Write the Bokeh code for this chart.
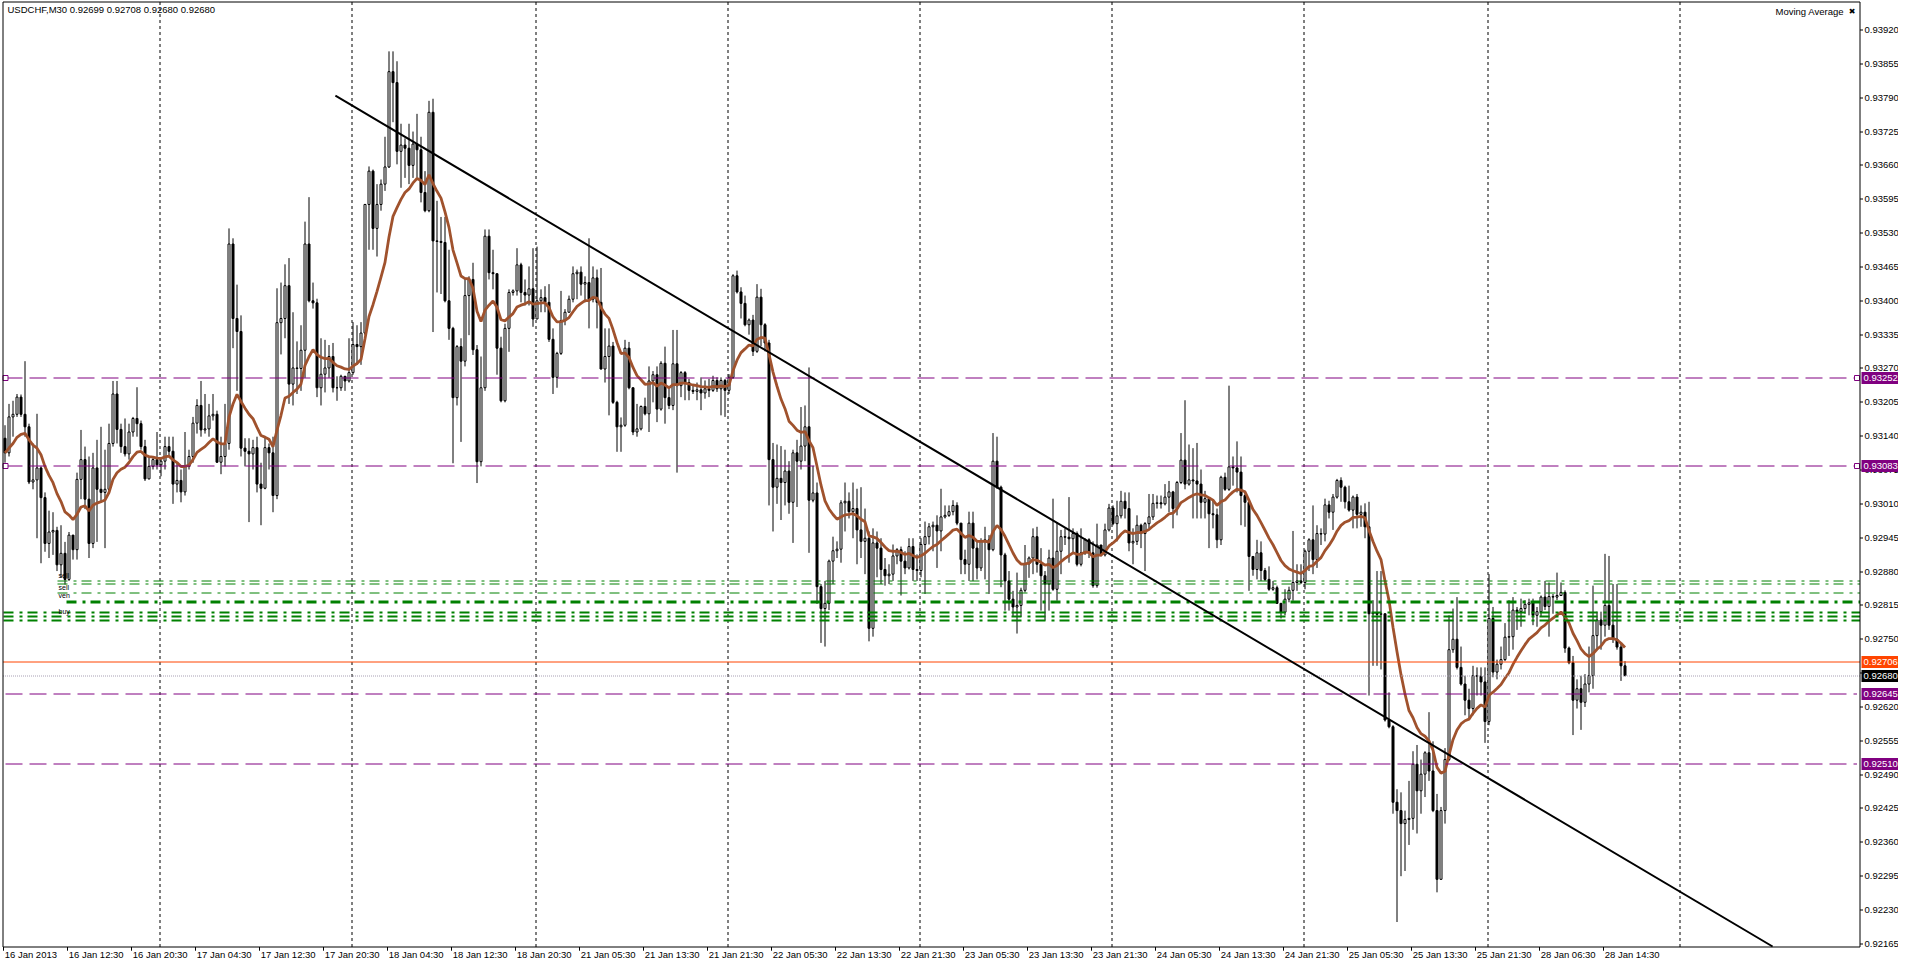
import math
import numpy as np
import pandas as pd
from bokeh.plotting import figure
from bokeh.models import Range1d, ColumnDataSource
from bokeh.core.properties import value
from bokeh.embed import file_html
from bokeh.resources import INLINE

# ---------------- data ----------------
chart_title = "USDCHF,M30  0.92699 0.92708 0.92680 0.92680"
indicator_name = "Moving Average"
first_open_pts = 93136  # prices in points (price = pts / 1e5)

close_pts = [
    93108, 93177, 93182, 93215, 93182, 93158, 93052, 93056, 93079, 93022,
    92934, 92956, 92959, 92893, 92915, 92865, 92950, 92922, 93057, 93095,
    93019, 92934, 93079, 93038, 93032, 93038, 93126, 93221, 93153, 93120,
    93106, 93148, 93174, 93164, 93120, 93058, 93082, 93095, 93085, 93092,
    93120, 93111, 93048, 93055, 93033, 93082, 93101, 93165, 93199, 93152,
    93154, 93179, 93182, 93090, 93101, 93126, 93509, 93366, 93341, 93117,
    93111, 93106, 93118, 93048, 93040, 93118, 93108, 93026, 93358, 93366,
    93429, 93240, 93271, 93270, 93305, 93509, 93400, 93396, 93233, 93259,
    93271, 93293, 93233, 93233, 93255, 93246, 93262, 93316, 93312, 93338,
    93585, 93649, 93539, 93585, 93624, 93657, 93840, 93819, 93687, 93699,
    93693, 93660, 93701, 93690, 93608, 93573, 93762, 93515, 93514, 93512,
    93400, 93347, 93214, 93312, 93284, 93410, 93441, 93306, 93091, 93233,
    93524, 93454, 93452, 93309, 93208, 93347, 93416, 93419, 93469, 93416,
    93411, 93423, 93365, 93400, 93406, 93397, 93326, 93253, 93299, 93362,
    93378, 93403, 93452, 93455, 93432, 93435, 93403, 93444, 93397, 93269,
    93293, 93313, 93205, 93158, 93161, 93309, 93233, 93148, 93154, 93197,
    93183, 93246, 93258, 93192, 93280, 93214, 93199, 93279, 93237, 93262,
    93243, 93228, 93226, 93229, 93223, 93231, 93228, 93247, 93231, 93247,
    93228, 93253, 93448, 93417, 93395, 93354, 93363, 93303, 93407, 93354,
    93319, 93095, 93042, 93059, 93051, 93073, 93013, 93108, 93092, 93121,
    93158, 93017, 93031, 92851, 92809, 92819, 92900, 92920, 92923, 93012,
    93015, 92995, 93001, 92960, 92938, 92944, 92771, 92935, 92925, 92884,
    92872, 92875, 92910, 92922, 92900, 92887, 92928, 92884, 92882, 92932,
    92947, 92966, 92969, 92958, 92985, 92988, 92995, 93007, 92973, 92903,
    92894, 92973, 92925, 92887, 92938, 92941, 92922, 93092, 93042, 92912,
    92862, 92827, 92812, 92815, 92844, 92895, 92906, 92947, 92894, 92872,
    92856, 92906, 92846, 92919, 92947, 92946, 92943, 92953, 92894, 92916,
    92941, 92916, 92853, 92931, 92912, 92960, 93002, 92972, 92987, 93015,
    93001, 92935, 92938, 92969, 92953, 92972, 92985, 93011, 93012, 93010,
    93023, 93033, 93001, 93051, 93094, 93048, 93056, 93054, 93048, 93013,
    93020, 92991, 92989, 92941, 93061, 93038, 93081, 93079, 93071, 93026,
    93013, 92909, 92884, 92916, 92882, 92865, 92846, 92849, 92819, 92802,
    92827, 92844, 92859, 92862, 92859, 92919, 92941, 92903, 92953, 92952,
    93008, 92994, 93023, 93055, 93042, 93014, 92998, 93023, 92990, 92994,
    92966, 92799, 92801, 92798, 92799, 92595, 92582, 92437, 92421, 92396,
    92404, 92406, 92510, 92459, 92491, 92532, 92497, 92421, 92289, 92421,
    92519, 92730, 92750, 92696, 92664, 92633, 92617, 92680, 92679, 92668,
    92592, 92790, 92687, 92702, 92711, 92754, 92755, 92806, 92803, 92809,
    92817, 92820, 92796, 92803, 92831, 92813, 92832, 92831, 92834, 92840,
    92733, 92705, 92633, 92655, 92629, 92664, 92680, 92757, 92787, 92777,
    92815, 92777, 92750, 92735, 92699, 92680,
]

high_pts = [
    93161, 93202, 93208, 93221, 93220, 93284, 93164, 93126, 93183, 93082,
    93032, 92997, 92994, 92966, 92969, 92937, 92956, 92950, 93070, 93152,
    93120, 93101, 93108, 93133, 93158, 93114, 93164, 93246, 93246, 93164,
    93174, 93164, 93177, 93234, 93170, 93133, 93101, 93098, 93148, 93098,
    93139, 93139, 93139, 93089, 93076, 93148, 93114, 93177, 93211, 93246,
    93221, 93202, 93221, 93189, 93139, 93202, 93539, 93520, 93431, 93372,
    93136, 93136, 93133, 93139, 93089, 93139, 93126, 93139, 93424, 93435,
    93470, 93482, 93378, 93322, 93353, 93552, 93599, 93435, 93404, 93328,
    93325, 93315, 93319, 93255, 93258, 93249, 93328, 93359, 93353, 93359,
    93586, 93658, 93652, 93624, 93633, 93715, 93879, 93879, 93860, 93740,
    93712, 93740, 93725, 93759, 93715, 93649, 93784, 93788, 93592, 93561,
    93561, 93498, 93350, 93315, 93328, 93444, 93447, 93473, 93315, 93293,
    93537, 93537, 93498, 93451, 93331, 93356, 93422, 93422, 93501, 93473,
    93441, 93466, 93501, 93504, 93422, 93428, 93432, 93347, 93302, 93419,
    93384, 93410, 93466, 93460, 93466, 93447, 93520, 93466, 93460, 93463,
    93347, 93347, 93321, 93208, 93176, 93325, 93321, 93233, 93202, 93199,
    93214, 93274, 93265, 93274, 93284, 93312, 93233, 93344, 93344, 93265,
    93265, 93250, 93237, 93243, 93253, 93247, 93250, 93256, 93253, 93253,
    93250, 93259, 93451, 93458, 93426, 93410, 93366, 93373, 93432, 93423,
    93357, 93325, 93127, 93124, 93121, 93114, 93092, 93114, 93133, 93196,
    93199, 93272, 93083, 93051, 92856, 92862, 92903, 92947, 92938, 93017,
    93051, 93032, 93051, 93039, 93042, 93001, 92957, 92963, 92957, 92944,
    92906, 92894, 92932, 92925, 92928, 92919, 92944, 92944, 92913, 92944,
    92976, 92973, 92976, 92988, 93039, 93007, 93007, 93017, 93013, 92973,
    92922, 92995, 92995, 92938, 92944, 92966, 92950, 93146, 93139, 93045,
    92916, 92881, 92843, 92878, 92849, 92931, 92909, 92963, 92966, 92925,
    92881, 92922, 93020, 92975, 92960, 92963, 93023, 92963, 92957, 92963,
    92944, 92944, 92938, 92972, 92931, 92972, 93010, 93007, 93016, 93035,
    93032, 93032, 92963, 92988, 92972, 92975, 93029, 93029, 93026, 93026,
    93048, 93054, 93035, 93054, 93146, 93209, 93124, 93117, 93127, 93076,
    93035, 93023, 93016, 93001, 93064, 93070, 93237, 93101, 93130, 93101,
    93035, 93016, 92909, 92941, 92938, 92887, 92890, 92862, 92853, 92818,
    92846, 92851, 92958, 92894, 92894, 92922, 92944, 93007, 92969, 92963,
    93020, 93016, 93029, 93058, 93061, 93045, 93045, 93026, 93029, 93007,
    93011, 93014, 92825, 92881, 92881, 92796, 92648, 92585, 92462, 92456,
    92421, 92478, 92535, 92547, 92519, 92535, 92610, 92554, 92453, 92428,
    92541, 92796, 92809, 92831, 92736, 92680, 92655, 92699, 92696, 92696,
    92696, 92875, 92812, 92711, 92736, 92781, 92825, 92831, 92812, 92828,
    92825, 92828, 92828, 92812, 92834, 92862, 92859, 92837, 92878, 92859,
    92844, 92736, 92718, 92673, 92680, 92683, 92736, 92853, 92803, 92803,
    92914, 92910, 92856, 92856, 92743, 92708,
]

low_pts = [
    93089, 93101, 93139, 93177, 93177, 93139, 93048, 93038, 92944, 92896,
    92918, 92906, 92912, 92881, 92868, 92855, 92862, 92903, 92903, 93019,
    93000, 92906, 92925, 92937, 93013, 92925, 93032, 93120, 93126, 93108,
    93101, 93095, 93139, 93139, 93114, 93054, 93057, 93076, 93076, 93063,
    93076, 93101, 93010, 93032, 93013, 93026, 93076, 93089, 93145, 93139,
    93145, 93139, 93170, 93089, 93067, 93082, 93114, 93309, 93227, 93101,
    93082, 92975, 93076, 93032, 92969, 93038, 93076, 92994, 93019, 93297,
    93328, 93202, 93199, 93221, 93227, 93252, 93397, 93385, 93215, 93199,
    93224, 93252, 93224, 93208, 93227, 93227, 93243, 93258, 93277, 93277,
    93334, 93498, 93498, 93485, 93573, 93611, 93655, 93743, 93662, 93617,
    93636, 93624, 93636, 93636, 93589, 93570, 93570, 93340, 93416, 93413,
    93397, 93325, 93088, 93199, 93129, 93274, 93334, 93296, 93050, 93082,
    93227, 93441, 93422, 93258, 93205, 93205, 93302, 93410, 93410, 93397,
    93391, 93391, 93350, 93397, 93378, 93378, 93321, 93221, 93233, 93296,
    93353, 93378, 93397, 93403, 93410, 93397, 93347, 93397, 93347, 93268,
    93243, 93180, 93202, 93110, 93110, 93158, 93230, 93142, 93139, 93151,
    93180, 93148, 93205, 93167, 93189, 93164, 93192, 93190, 93070, 93215,
    93209, 93209, 93221, 93209, 93190, 93212, 93215, 93225, 93225, 93180,
    93177, 93221, 93250, 93414, 93366, 93351, 93335, 93294, 93300, 93313,
    93303, 93007, 92957, 93010, 92979, 93007, 92991, 92935, 93004, 93076,
    93092, 92916, 93013, 92818, 92743, 92736, 92806, 92856, 92906, 92897,
    92957, 92982, 92944, 92894, 92906, 92875, 92746, 92755, 92869, 92856,
    92853, 92856, 92862, 92894, 92834, 92875, 92884, 92862, 92862, 92869,
    92837, 92932, 92919, 92887, 92919, 92982, 92985, 92988, 92969, 92875,
    92875, 92862, 92862, 92865, 92881, 92865, 92837, 92919, 93039, 92850,
    92805, 92805, 92793, 92761, 92793, 92840, 92868, 92875, 92878, 92805,
    92786, 92805, 92843, 92824, 92875, 92931, 92897, 92916, 92890, 92890,
    92912, 92906, 92849, 92849, 92909, 92909, 92957, 92969, 92938, 92982,
    92982, 92919, 92894, 92931, 92925, 92881, 92963, 92979, 93001, 93001,
    93007, 92994, 92963, 92988, 93048, 93038, 93045, 92982, 92982, 92982,
    92982, 92925, 92963, 92925, 92931, 93035, 93035, 93045, 93032, 92969,
    92966, 92843, 92872, 92865, 92862, 92862, 92843, 92843, 92818, 92790,
    92796, 92821, 92824, 92843, 92856, 92846, 92881, 92875, 92887, 92931,
    92938, 92982, 92960, 93020, 93014, 93001, 92995, 92963, 92963, 92966,
    92944, 92642, 92699, 92699, 92692, 92592, 92579, 92415, 92207, 92295,
    92305, 92355, 92384, 92377, 92415, 92447, 92478, 92418, 92264, 92289,
    92396, 92516, 92724, 92692, 92661, 92604, 92598, 92604, 92642, 92642,
    92551, 92585, 92677, 92673, 92692, 92708, 92718, 92730, 92768, 92774,
    92799, 92796, 92777, 92774, 92793, 92806, 92755, 92799, 92825, 92834,
    92724, 92702, 92566, 92617, 92576, 92620, 92648, 92655, 92730, 92730,
    92755, 92768, 92743, 92730, 92670, 92680,
]

time_labels = [
    "16 Jan 2013", "16 Jan 12:30", "16 Jan 20:30", "17 Jan 04:30", "17 Jan 12:30",
    "17 Jan 20:30", "18 Jan 04:30", "18 Jan 12:30", "18 Jan 20:30", "21 Jan 05:30",
    "21 Jan 13:30", "21 Jan 21:30", "22 Jan 05:30", "22 Jan 13:30", "22 Jan 21:30",
    "23 Jan 05:30", "23 Jan 13:30", "23 Jan 21:30", "24 Jan 05:30", "24 Jan 13:30",
    "24 Jan 21:30", "25 Jan 05:30", "25 Jan 13:30", "25 Jan 21:30", "28 Jan 06:30",
    "28 Jan 14:30",
]
bars_per_time_label = 16

price_tick_labels = [
    "0.93920", "0.93855", "0.93790", "0.93725", "0.93660", "0.93595", "0.93530",
    "0.93465", "0.93400", "0.93335", "0.93270", "0.93205", "0.93140", "0.93075",
    "0.93010", "0.92945", "0.92880", "0.92815", "0.92750", "0.92685", "0.92620",
    "0.92555", "0.92490", "0.92425", "0.92360", "0.92295", "0.92230", "0.92165",
]

purple_levels = [0.93252, 0.93083, 0.92645, 0.92510]
purple_levels_anchored = [0.93252, 0.93083]
green_levels_thin = [0.92862, 0.92856, 0.92839]
green_levels_thick = [0.92822]
green_levels_lower = [0.92800, 0.92793, 0.92785]
ask_level = 0.92706
bid_level = 0.92680
trend_x = [82.6, 441.9]          # bar index
trend_y = [0.93794, 0.92160]
day_separators = [38.75, 86.75, 132.75, 180.75, 228.75, 276.75, 324.75, 370.75, 418.75]
ma_period = 14

# ---------------- layout helpers (canvas pixel -> data) ----------------
W, H = 1898, 963

def rx(px):
    return (px - 4.5) / 4.0

def ry(py):  # py in reference pixels (0..979), compressed into the 963 px canvas
    return 0.93920 - (py - 30) * 1.889e-5

Y_TOP, Y_BOT = ry(0), ry(979)
_SC = H / (Y_TOP - Y_BOT)

def snap(price, half=True):
    """Move a horizontal line onto the pixel grid so that it renders crisply."""
    y = (Y_TOP - price) * _SC
    y = math.floor(y) + (0.5 if half else 0.0)
    return Y_TOP - y / _SC

FONT = value("Liberation Sans")
FS = value("9.5px")

p = figure(width=W, height=H, output_backend="svg", toolbar_location=None,
           x_range=Range1d(rx(0), rx(W)), y_range=Range1d(Y_BOT, Y_TOP),
           x_axis_type=None, y_axis_type=None, min_border=0)
p.outline_line_color = None
p.background_fill_color = "white"
p.border_fill_color = "white"

AXX = 1859.5                      # right price axis line (canvas px)
XL, XR = rx(2.5), rx(AXX)
YT, YB = snap(ry(1.5)), snap(ry(962))

# ---------------- data prep ----------------
c = np.array(close_pts) / 1e5
o = np.array([first_open_pts] + close_pts[:-1]) / 1e5
hi = np.maximum(np.array(high_pts) / 1e5, np.maximum(o, c))
lo = np.minimum(np.array(low_pts) / 1e5, np.minimum(o, c))
idx = np.arange(len(c))
ma = pd.Series(c).ewm(span=ma_period, adjust=False).mean().values

# day separators
p.segment(x0=day_separators, y0=[YB] * len(day_separators), x1=day_separators,
          y1=[YT] * len(day_separators), line_color="black", line_width=1, line_dash="3 3")

# candles
src = ColumnDataSource(dict(
    x=idx, o=o, c=c, h=hi, l=lo,
    top=np.maximum(o, c), bot=np.minimum(o, c),
    fill=["white" if cc >= oo else "black" for oo, cc in zip(o, c)],
))
p.segment(x0="x", y0="l", x1="x", y1="h", source=src, line_color="black", line_width=1)
p.vbar(x="x", width=0.5, top="top", bottom="bot", source=src,
       fill_color="fill", line_color="black", line_width=1)

# moving average
p.line(idx, ma, line_color="#A0522D", line_width=2.8)

# horizontal levels
for lv in purple_levels:
    p.segment(x0=[rx(5)], y0=[snap(lv)], x1=[rx(AXX - 3)], y1=[snap(lv)], line_color="#800080",
              line_width=1, line_dash="17 7")
p.scatter(x=[rx(5)] * 2 + [rx(AXX - 3)] * 2, y=[snap(v) for v in purple_levels_anchored] * 2,
          marker="square", size=5, fill_color="white", line_color="#800080", line_width=1)

p.segment(x0=[XL], y0=[snap(ask_level)], x1=[XR], y1=[snap(ask_level)], line_color="#FF4500",
          line_width=1)
p.segment(x0=[XL], y0=[snap(bid_level)], x1=[XR], y1=[snap(bid_level)], line_color="#A8A0B4",
          line_width=1, line_dash="1 1")

for lv in green_levels_thin:
    p.segment(x0=[rx(57)], y0=[snap(lv)], x1=[XR], y1=[snap(lv)], line_color="#008000",
              line_width=1, line_dash="10 6 3 5")
for lv in green_levels_thick:
    p.segment(x0=[rx(66)], y0=[snap(lv)], x1=[XR], y1=[snap(lv)], line_color="#008000",
              line_width=3, line_dash="10 6 3 5")
for lv in green_levels_lower:
    p.segment(x0=[rx(3)], y0=[snap(lv, False)], x1=[XR], y1=[snap(lv, False)], line_color="#008000",
              line_width=2, line_dash="10 6 3 5")

# small object labels at the left
p.text(x=[rx(58)] * 4, y=[ry(585), ry(597), ry(605), ry(621)],
       text=["sell", "sell", "ven", "buy"], text_font=FONT, text_font_size=value("7px"),
       text_align="left", text_baseline="middle", text_color="black")

# trend line
p.line(trend_x, trend_y, line_color="black", line_width=2)

# frame
p.segment(x0=[XL, XL, XR, XL], y0=[YT, YB, YB, YB], x1=[XR, XR, XR, XL], y1=[YT, YB, YT, YT],
          line_color="black", line_width=1)

# right price axis
tick_vals = [float(t) for t in price_tick_labels]
p.segment(x0=[XR] * len(tick_vals), y0=[snap(t) for t in tick_vals], x1=[rx(AXX + 3)] * len(tick_vals),
          y1=[snap(t) for t in tick_vals], line_color="black", line_width=1)
p.text(x=[rx(AXX + 4.5)] * len(tick_vals), y=tick_vals, text=price_tick_labels, text_font=FONT,
       text_font_size=FS, text_align="left", text_baseline="middle", text_color="black")

# price boxes
box_levels = purple_levels + [ask_level, bid_level]
box_colors = ["#800080"] * 4 + ["#FF4500", "#000000"]
p.rect(x=[rx((AXX + 1.5 + W) / 2)] * len(box_levels), y=[snap(v) for v in box_levels],
       width=(W - AXX - 1.5) * 0.25, height=12 * 1.889e-5, fill_color=box_colors, line_color=None)
p.text(x=[rx(AXX + 3.5)] * len(box_levels), y=[snap(v) for v in box_levels],
       text=["%.5f" % v for v in box_levels], text_font=FONT, text_font_size=FS,
       text_align="left", text_baseline="middle", text_color="white")

# bottom time axis
tx = [k * bars_per_time_label - 0.375 for k in range(len(time_labels))]
p.segment(x0=tx, y0=[YB] * len(tx), x1=tx, y1=[ry(966)] * len(tx), line_color="black", line_width=1)
p.text(x=[t + 0.3 for t in tx], y=[ry(964)] * len(tx), text=time_labels, text_font=FONT,
       text_font_size=FS, text_align="left", text_baseline="top", text_color="black")

# title and indicator name
p.text(x=[rx(7)], y=[ry(9)], text=[chart_title], text_font=FONT, text_font_size=FS,
       text_align="left", text_baseline="middle", text_color="black")
p.text(x=[rx(AXX - 16)], y=[ry(11)], text=[indicator_name], text_font=FONT, text_font_size=FS,
       text_align="right", text_baseline="middle", text_color="black")
p.text(x=[rx(AXX - 8)], y=[ry(11)], text=["\u2716"], text_font=value("DejaVu Sans"),
       text_font_size=value("8px"), text_align="center", text_baseline="middle", text_color="black")

open("out.html", "w").write(file_html(p, INLINE))
